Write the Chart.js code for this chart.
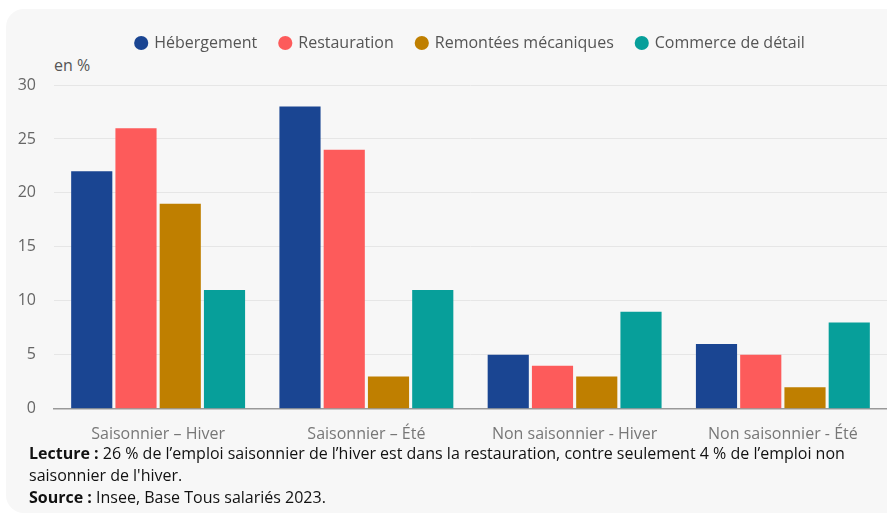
<!DOCTYPE html>
<html>
<head>
<meta charset="utf-8">
<script src="https://cdn.jsdelivr.net/npm/chart.js@4/dist/chart.umd.min.js"></script>
<style>
  html, body { margin:0; padding:0; background:#fff; width:887px; height:517px; overflow:hidden; font-family:"Open Sans", sans-serif; }
  #panel { position:absolute; left:6px; top:9px; width:900px; height:504px; background:#f7f7f7; border-radius:18px; }
  #wrap { position:absolute; left:0; top:0; width:887px; height:452px; }
  #unit { position:absolute; left:54px; top:54px; font-size:16px; color:#555; }
  #notes { position:absolute; left:29px; top:442px; font-size:16px; line-height:22px; color:#111; }
  #notes b { font-weight:700; }
</style>
</head>
<body>
<div id="panel"></div>
<div id="unit">en %</div>
<div id="wrap"><canvas id="c"></canvas></div>
<div id="notes">
  <div><b>Lecture :</b> 26 % de l’emploi saisonnier de l’hiver est dans la restauration, contre seulement 4 % de l’emploi non<br>saisonnier de l'hiver.</div>
  <div><b>Source :</b> Insee, Base Tous salariés 2023.</div>
</div>
<script>
const categories = ["Saisonnier – Hiver", "Saisonnier – Été", "Non saisonnier - Hiver", "Non saisonnier - Été"];
const seriesNames = ["Hébergement", "Restauration", "Remontées mécaniques", "Commerce de détail"];
const hebergement = [22, 28, 5, 6];
const restauration = [26, 24, 4, 5];
const remontees = [19, 3, 3, 2];
const commerce = [11, 11, 9, 8];
const yTicks = [0, 5, 10, 15, 20, 25, 30];

const colors = ["#1a4592", "#fd5b5b", "#bf7f00", "#079f9a"];
const values = [hebergement, restauration, remontees, commerce];

const legendTweak = {
  id: 'legendTweak',
  beforeInit(chart) {
    const fit = chart.legend.fit;
    chart.legend.fit = function() { fit.bind(chart.legend)(); this.height += 24; };
  },
  afterLayout(chart) {
    // centre the legend over the plot area
    chart.legend.left = chart.chartArea.left;
    chart.legend.right = chart.chartArea.right;
  }
};

new Chart(document.getElementById('c'), {
  type: 'bar',
  data: {
    labels: categories,
    datasets: seriesNames.map((n, i) => ({
      label: n,
      data: values[i],
      backgroundColor: colors[i],
      borderWidth: 0,
      barPercentage: 0.93,
      categoryPercentage: 0.85
    }))
  },
  options: {
    responsive: true,
    maintainAspectRatio: false,
    animation: false,
    layout: { padding: { top: 12, left: 0, right: 0, bottom: 0 } },
    plugins: {
      legend: {
        position: 'top',
        labels: {
          usePointStyle: true,
          pointStyle: 'circle',
          boxWidth: 10,
          boxHeight: 10,
          padding: 23,
          color: '#555',
          font: { family: 'Open Sans', size: 16 }
        }
      },
      tooltip: { enabled: false }
    },
    scales: {
      x: {
        grid: { display: false },
        border: { display: true, color: '#999', width: 1.5 },
        ticks: { color: '#777', padding: 8, font: { family: 'Open Sans', size: 16 } }
      },
      y: {
        min: 0, max: 30,
        afterFit(scale) { scale.width = 54; },
        afterBuildTicks(scale) { scale.ticks = yTicks.map(v => ({ value: v })); },
        grid: { color: '#e6e6e6', lineWidth: 1, drawTicks: false },
        border: { display: false },
        ticks: { color: '#666', padding: 18, font: { family: 'Open Sans', size: 16 } }
      }
    }
  },
  plugins: [legendTweak]
});
</script>
</body>
</html>
